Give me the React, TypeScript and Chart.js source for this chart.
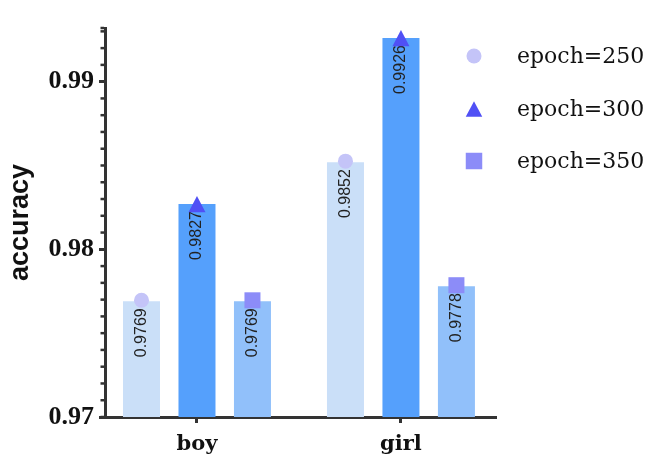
import { useEffect, useRef } from 'react';
import { Chart, registerables } from 'chart.js';

Chart.register(...registerables);

const categories = ['boy', 'girl'];
const seriesLabels = ['epoch=250', 'epoch=300', 'epoch=350'];
const epoch250 = [0.9769, 0.9852];
const epoch300 = [0.9827, 0.9926];
const epoch350 = [0.9769, 0.9778];
const yMajorTicks = [0.97, 0.98, 0.99];
const yMin = 0.97;
const yMax = 0.9932;
const yMinorStep = 0.001;
const xMin = -0.451;
const xMax = 1.466;

const seriesValues = [epoch250, epoch300, epoch350];
const barColors = ['#cadff8', '#55a0fc', '#91c0fa'];
const markerColors = ['#c4c4f8', '#5050f5', '#8c8cf8'];
const markerStyles = ['circle', 'triangle', 'rect'];

function drawMarker(ctx: CanvasRenderingContext2D, style: string, x: number, y: number, size: number, color: string) {
  ctx.save();
  ctx.fillStyle = color;
  ctx.beginPath();
  if (style === 'circle') {
    ctx.arc(x, y, size / 2, 0, Math.PI * 2);
  } else if (style === 'triangle') {
    const h = size * 0.95;
    ctx.moveTo(x, y - h / 2);
    ctx.lineTo(x + size / 2, y + h / 2);
    ctx.lineTo(x - size / 2, y + h / 2);
    ctx.closePath();
  } else {
    ctx.rect(x - size / 2, y - size / 2, size, size);
  }
  ctx.fill();
  ctx.restore();
}

const overlayPlugin = {
  id: 'overlay',
  afterDatasetsDraw(chart: any) {
    const ctx: CanvasRenderingContext2D = chart.ctx;
    // value labels
    chart.data.datasets.forEach((ds: any, i: number) => {
      const meta = chart.getDatasetMeta(i);
      meta.data.forEach((bar: any, j: number) => {
        const { x, y } = bar.getProps(['x', 'y'], true);
        const v = ds.data[j].y;
        ctx.save();
        ctx.translate(x, y + 7);
        ctx.rotate(-Math.PI / 2);
        ctx.font = '16px "Liberation Sans", Arial, sans-serif';
        ctx.fillStyle = '#222';
        ctx.textAlign = 'right';
        ctx.textBaseline = 'middle';
        ctx.fillText(v.toFixed(4), 0, 0);
        ctx.restore();
      });
    });
    // markers
    chart.data.datasets.forEach((_ds: any, i: number) => {
      const meta = chart.getDatasetMeta(i);
      meta.data.forEach((bar: any) => {
        const { x, y } = bar.getProps(['x', 'y'], true);
        const style = markerStyles[i];
        if (style === 'circle') drawMarker(ctx, style, x, y - 1, 15, markerColors[i]);
        else if (style === 'triangle') drawMarker(ctx, style, x, y, 17, markerColors[i]);
        else drawMarker(ctx, style, x, y - 1, 16, markerColors[i]);
      });
    });
  },
  afterDraw(chart: any) {
    const ctx: CanvasRenderingContext2D = chart.ctx;
    const area = chart.chartArea;
    const yScale = chart.scales.y;
    // minor ticks
    ctx.save();
    ctx.strokeStyle = '#333';
    ctx.lineWidth = 2.5;
    const n = Math.round((yMax - yMin) / yMinorStep);
    for (let k = 0; k <= n + 1; k++) {
      let v = yMin + k * yMinorStep;
      if (v > yMax) v = yMax;
      const py = yScale.getPixelForValue(v);
      ctx.beginPath();
      ctx.moveTo(area.left - 1, py);
      ctx.lineTo(area.left - 4.5, py);
      ctx.stroke();
      if (v === yMax) break;
    }
    ctx.restore();
    // legend
    const rowY = [area.top + 28, area.top + 81, area.top + 133];
    seriesLabels.forEach((label, i) => {
      const cx = area.right - 22;
      const cy = rowY[i];
      const style = markerStyles[i];
      drawMarker(ctx, style, cx, cy, style === 'circle' ? 15 : 16.5, markerColors[i]);
      ctx.save();
      ctx.font = '22px "DejaVu Serif", serif';
      ctx.fillStyle = '#111';
      ctx.textAlign = 'left';
      ctx.textBaseline = 'middle';
      ctx.fillText(label, area.right + 21, cy + 1);
      ctx.restore();
    });
  },
};

export default function App() {
  const canvasRef = useRef<HTMLCanvasElement>(null);

  useEffect(() => {
    if (!canvasRef.current) return;
    const chart = new Chart(canvasRef.current, {
      type: 'bar',
      data: {
        datasets: seriesLabels.map((label, i) => ({
          label,
          data: seriesValues[i].map((v, j) => ({ x: j, y: v })),
          backgroundColor: barColors[i],
          borderWidth: 0,
          categoryPercentage: 0.816,
          barPercentage: 0.667,
        })),
      },
      options: {
        animation: false,
        responsive: true,
        maintainAspectRatio: false,
        layout: { padding: { top: 28, right: 162, left: 0, bottom: 0 } },
        plugins: {
          legend: { display: false },
          tooltip: { enabled: false },
        },
        scales: {
          x: {
            type: 'linear',
            min: xMin,
            max: xMax,
            offset: false,
            afterFit: (scale: any) => {
              scale.height = 56;
            },
            afterBuildTicks: (scale: any) => {
              scale.ticks = categories.map((_c, i) => ({ value: i }));
            },
            ticks: {
              callback: (v: any) => categories[Math.round(Number(v))] ?? '',
              font: { family: '"DejaVu Serif", serif', weight: 'bold', size: 21 },
              color: '#111',
              padding: 9,
              maxRotation: 0,
              autoSkip: false,
            },
            grid: {
              offset: false,
              drawOnChartArea: false,
              drawTicks: true,
              tickLength: 6,
              tickWidth: 3,
              tickColor: '#333',
            },
            border: { display: true, color: '#333', width: 3 },
          },
          y: {
            type: 'linear',
            min: yMin,
            max: yMax,
            afterFit: (scale: any) => {
              scale.width = 105;
            },
            afterBuildTicks: (scale: any) => {
              scale.ticks = yMajorTicks.map((v) => ({ value: v }));
            },
            ticks: {
              callback: (v: any) => Number(v).toFixed(2),
              font: { family: '"Liberation Serif", serif', weight: 'bold', size: 26 },
              color: '#111',
              padding: 5,
            },
            grid: {
              drawOnChartArea: false,
              drawTicks: true,
              tickLength: 6,
              tickWidth: 3,
              tickColor: '#333',
            },
            border: { display: true, color: '#333', width: 3 },
            title: {
              display: true,
              text: 'accuracy',
              font: { family: '"Liberation Sans", Arial, sans-serif', weight: 'bold', size: 27 },
              color: '#111',
              padding: { top: 4, bottom: 0 },
            },
          },
        },
      },
      plugins: [overlayPlugin],
    } as any);
    return () => chart.destroy();
  }, []);

  return (
    <div style={{ position: 'absolute', left: 0, top: 0, width: 658, height: 473 }}>
      <canvas ref={canvasRef} />
    </div>
  );
}
